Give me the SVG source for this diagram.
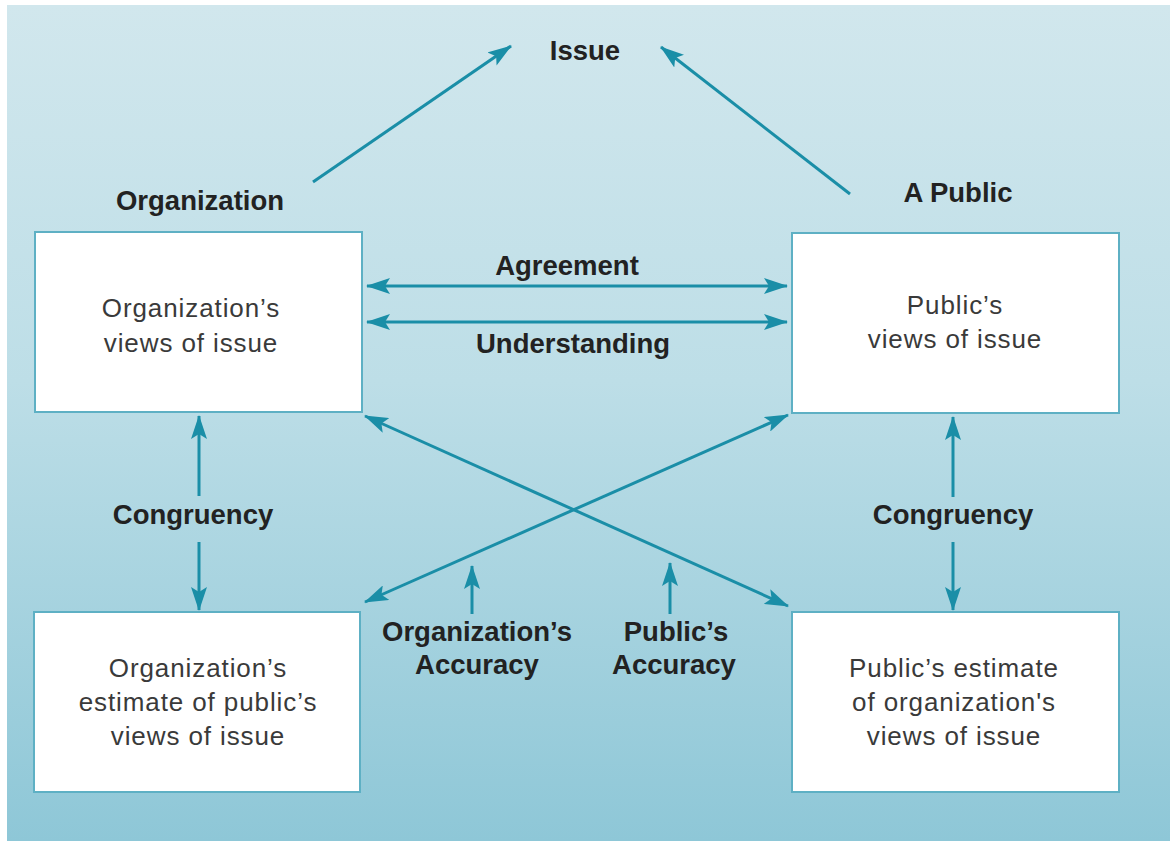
<svg xmlns="http://www.w3.org/2000/svg" width="1170" height="841" viewBox="0 0 1170 841">
<defs>
<linearGradient id="bg" x1="0" y1="0" x2="0" y2="1">
<stop offset="0" stop-color="#d1e7ed"/>
<stop offset="0.45" stop-color="#bddee7"/>
<stop offset="1" stop-color="#8ec7d7"/>
</linearGradient>
<marker id="ah" viewBox="0 0 24 16" refX="23" refY="8" markerWidth="24" markerHeight="16" markerUnits="userSpaceOnUse" orient="auto-start-reverse">
<path d="M0,0 L24,8 L0,16 L5,8 Z" fill="#1a8ea7"/>
</marker>
<style>
.box{fill:#ffffff;stroke:#5eb0c4;stroke-width:2}
.lbl{font-family:"Liberation Sans",Arial,sans-serif;font-weight:bold;font-size:27.5px;fill:#222;text-anchor:middle}
.txt{font-family:"Liberation Sans",Arial,sans-serif;font-size:26px;letter-spacing:0.9px;fill:#3a3a3a;text-anchor:middle}
.con{stroke:#1a8ea7;stroke-width:3;fill:none}
.one{marker-end:url(#ah)}
.two{marker-start:url(#ah);marker-end:url(#ah)}
</style>
</defs>
<rect x="7" y="5" width="1163" height="836" fill="url(#bg)"/>

<g id="connectors">
<line class="con one" x1="313" y1="182" x2="511" y2="46"/>
<line class="con one" x1="850" y1="194" x2="661" y2="47"/>
<line class="con two" x1="367" y1="286" x2="787" y2="286"/>
<line class="con two" x1="367" y1="322" x2="787" y2="322"/>
<line class="con two" x1="365" y1="416" x2="788" y2="606"/>
<line class="con two" x1="365" y1="602" x2="788" y2="415"/>
<line class="con one" x1="199" y1="496" x2="199" y2="416"/>
<line class="con one" x1="199" y1="542" x2="199" y2="610"/>
<line class="con one" x1="953" y1="497" x2="953" y2="417"/>
<line class="con one" x1="953" y1="542" x2="953" y2="610"/>
<line class="con one" x1="472" y1="614" x2="472" y2="566"/>
<line class="con one" x1="670" y1="614" x2="670" y2="563"/>
</g>

<g id="labels">
<text class="lbl" x="585" y="60">Issue</text>
<text class="lbl" x="200" y="210">Organization</text>
<text class="lbl" x="958" y="202">A Public</text>
<text class="lbl" x="567" y="275">Agreement</text>
<text class="lbl" x="573" y="353">Understanding</text>
<text class="lbl" x="193" y="524">Congruency</text>
<text class="lbl" x="953" y="524">Congruency</text>
<text class="lbl" x="477" y="641">Organization’s</text>
<text class="lbl" x="477" y="674">Accuracy</text>
<text class="lbl" x="676" y="641">Public’s</text>
<text class="lbl" x="674" y="674">Accuracy</text>
</g>

<g id="org-views">
<rect class="box" x="35" y="232" width="327" height="180"/>
<text class="txt" x="191" y="317">Organization’s</text>
<text class="txt" x="191" y="352">views of issue</text>
</g>

<g id="public-views">
<rect class="box" x="792" y="233" width="327" height="180"/>
<text class="txt" x="955" y="314">Public’s</text>
<text class="txt" x="955" y="348">views of issue</text>
</g>

<g id="org-estimate">
<rect class="box" x="34" y="612" width="326" height="180"/>
<text class="txt" x="198" y="677">Organization’s</text>
<text class="txt" x="198" y="711">estimate of public’s</text>
<text class="txt" x="198" y="745">views of issue</text>
</g>

<g id="public-estimate">
<rect class="box" x="792" y="612" width="327" height="180"/>
<text class="txt" x="954" y="677">Public’s estimate</text>
<text class="txt" x="954" y="711">of organization's</text>
<text class="txt" x="954" y="745">views of issue</text>
</g>
</svg>
